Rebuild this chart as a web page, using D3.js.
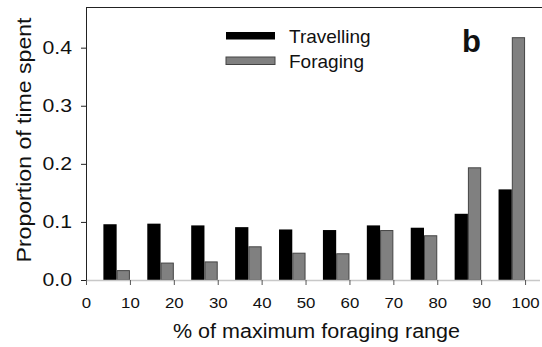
<!DOCTYPE html>
<html>
<head>
<meta charset="utf-8">
<script src="https://cdn.jsdelivr.net/npm/d3@7"></script>
<style>
  html, body { margin: 0; padding: 0; background: #fff; }
  svg { display: block; font-family: "Liberation Sans", Arial, sans-serif; }
</style>
</head>
<body>
<svg id="chart" width="542" height="347"></svg>
<script>
// Upper edge of each 10% distance bin
const bins = [10, 20, 30, 40, 50, 60, 70, 80, 90, 100];
const travelling = [0.096, 0.097, 0.094, 0.091, 0.087, 0.086, 0.094, 0.090, 0.114, 0.156];
const foraging   = [0.017, 0.030, 0.032, 0.058, 0.047, 0.046, 0.086, 0.077, 0.194, 0.418];
const xTicks = [0, 10, 20, 30, 40, 50, 60, 70, 80, 90, 100];
const yTicks = [0, 0.1, 0.2, 0.3, 0.4];
const seriesNames = ["Travelling", "Foraging"];
const seriesColors = ["#000000", "#808080"];

const svg = d3.select("#chart");
const plotLeft = 86, plotRight = 540, plotTop = 7, plotBottom = 280;

const x = d3.scaleLinear().domain([0, 103.4]).range([plotLeft, plotRight]);
const y = d3.scaleLinear().domain([0, 0.47]).range([plotBottom, plotTop]);

// Widen a text element horizontally by a factor, keeping it real text
function widen(sel, factor) {
  sel.each(function () {
    const w = this.getComputedTextLength();
    d3.select(this).attr("textLength", w * factor).attr("lengthAdjust", "spacingAndGlyphs");
  });
}

// Top frame line
svg.append("line")
  .attr("x1", plotLeft).attr("x2", 542)
  .attr("y1", plotTop + 0.5).attr("y2", plotTop + 0.5)
  .attr("stroke", "#222").attr("stroke-width", 1);

// Bars: travelling occupies [t-6, t-3], foraging [t-3, t]
const barW = 3.02;
svg.append("g").selectAll("rect")
  .data(bins.map((b, i) => ({ b, v: travelling[i] })))
  .join("rect")
  .attr("x", d => x(d.b - 2 * barW))
  .attr("width", d => x(d.b - barW) - x(d.b - 2 * barW))
  .attr("y", d => y(d.v))
  .attr("height", d => y(0) - y(d.v))
  .attr("fill", seriesColors[0]);

svg.append("g").selectAll("rect")
  .data(bins.map((b, i) => ({ b, v: foraging[i] })))
  .join("rect")
  .attr("x", d => x(d.b - barW) + 0.5)
  .attr("width", d => x(d.b) - x(d.b - barW) - 1)
  .attr("y", d => y(d.v) + 0.5)
  .attr("height", d => y(0) - y(d.v) - 0.5)
  .attr("fill", seriesColors[1])
  .attr("stroke", "#444").attr("stroke-width", 1);

// X axis baseline (light) and ticks
svg.append("line")
  .attr("x1", plotLeft).attr("x2", plotRight)
  .attr("y1", plotBottom + 0.5).attr("y2", plotBottom + 0.5)
  .attr("stroke", "#c8c8c8").attr("stroke-width", 1.5);

const xAxis = d3.axisBottom(x).tickValues(xTicks).tickSize(5).tickPadding(12)
  .tickFormat(d3.format("d"));
const gx = svg.append("g").attr("transform", `translate(0,${plotBottom})`).call(xAxis);
gx.select(".domain").remove();
gx.selectAll(".tick line").attr("stroke", "#555");
gx.selectAll(".tick text").attr("font-size", 15).attr("fill", "#111")
  .attr("font-family", "Liberation Sans, Arial, sans-serif")
  .call(widen, 1.12);

// Y axis
const yAxis = d3.axisLeft(y).tickValues(yTicks).tickSize(5).tickPadding(9)
  .tickFormat(d3.format(".1f"));
const gy = svg.append("g").attr("transform", `translate(${plotLeft},0)`).call(yAxis);
gy.select(".domain").attr("d", `M0.5,${plotTop}V${plotBottom}`).attr("stroke", "#222");
gy.selectAll(".tick line").attr("stroke", "#222");
gy.selectAll(".tick text").attr("font-size", 18).attr("fill", "#111")
  .attr("font-family", "Liberation Sans, Arial, sans-serif")
  .call(widen, 1.18);

// Axis titles
svg.append("text")
  .attr("x", 316.5).attr("y", 338)
  .attr("text-anchor", "middle").attr("font-size", 19.5).attr("fill", "#111")
  .attr("textLength", 287).attr("lengthAdjust", "spacingAndGlyphs")
  .text("% of maximum foraging range");

svg.append("text")
  .attr("transform", `translate(31,140) rotate(-90)`)
  .attr("text-anchor", "middle").attr("font-size", 20.5).attr("fill", "#111")
  .attr("textLength", 245).attr("lengthAdjust", "spacingAndGlyphs")
  .text("Proportion of time spent");

// Legend
const legend = svg.append("g").attr("transform", "translate(226,32)");
seriesNames.forEach((name, i) => {
  const g = legend.append("g").attr("transform", `translate(0,${i * 25})`);
  g.append("rect")
    .attr("x", 0).attr("y", 0).attr("width", 49).attr("height", 7.5)
    .attr("fill", seriesColors[i])
    .attr("stroke", i === 0 ? "none" : "#444").attr("stroke-width", 1);
  g.append("text")
    .attr("x", 63).attr("y", 11)
    .attr("font-size", 19).attr("fill", "#111")
    .text(name);
});

// Panel letter
svg.append("text")
  .attr("x", 462).attr("y", 52)
  .attr("font-size", 31).attr("font-weight", "bold").attr("fill", "#111")
  .text("b");
</script>
</body>
</html>
